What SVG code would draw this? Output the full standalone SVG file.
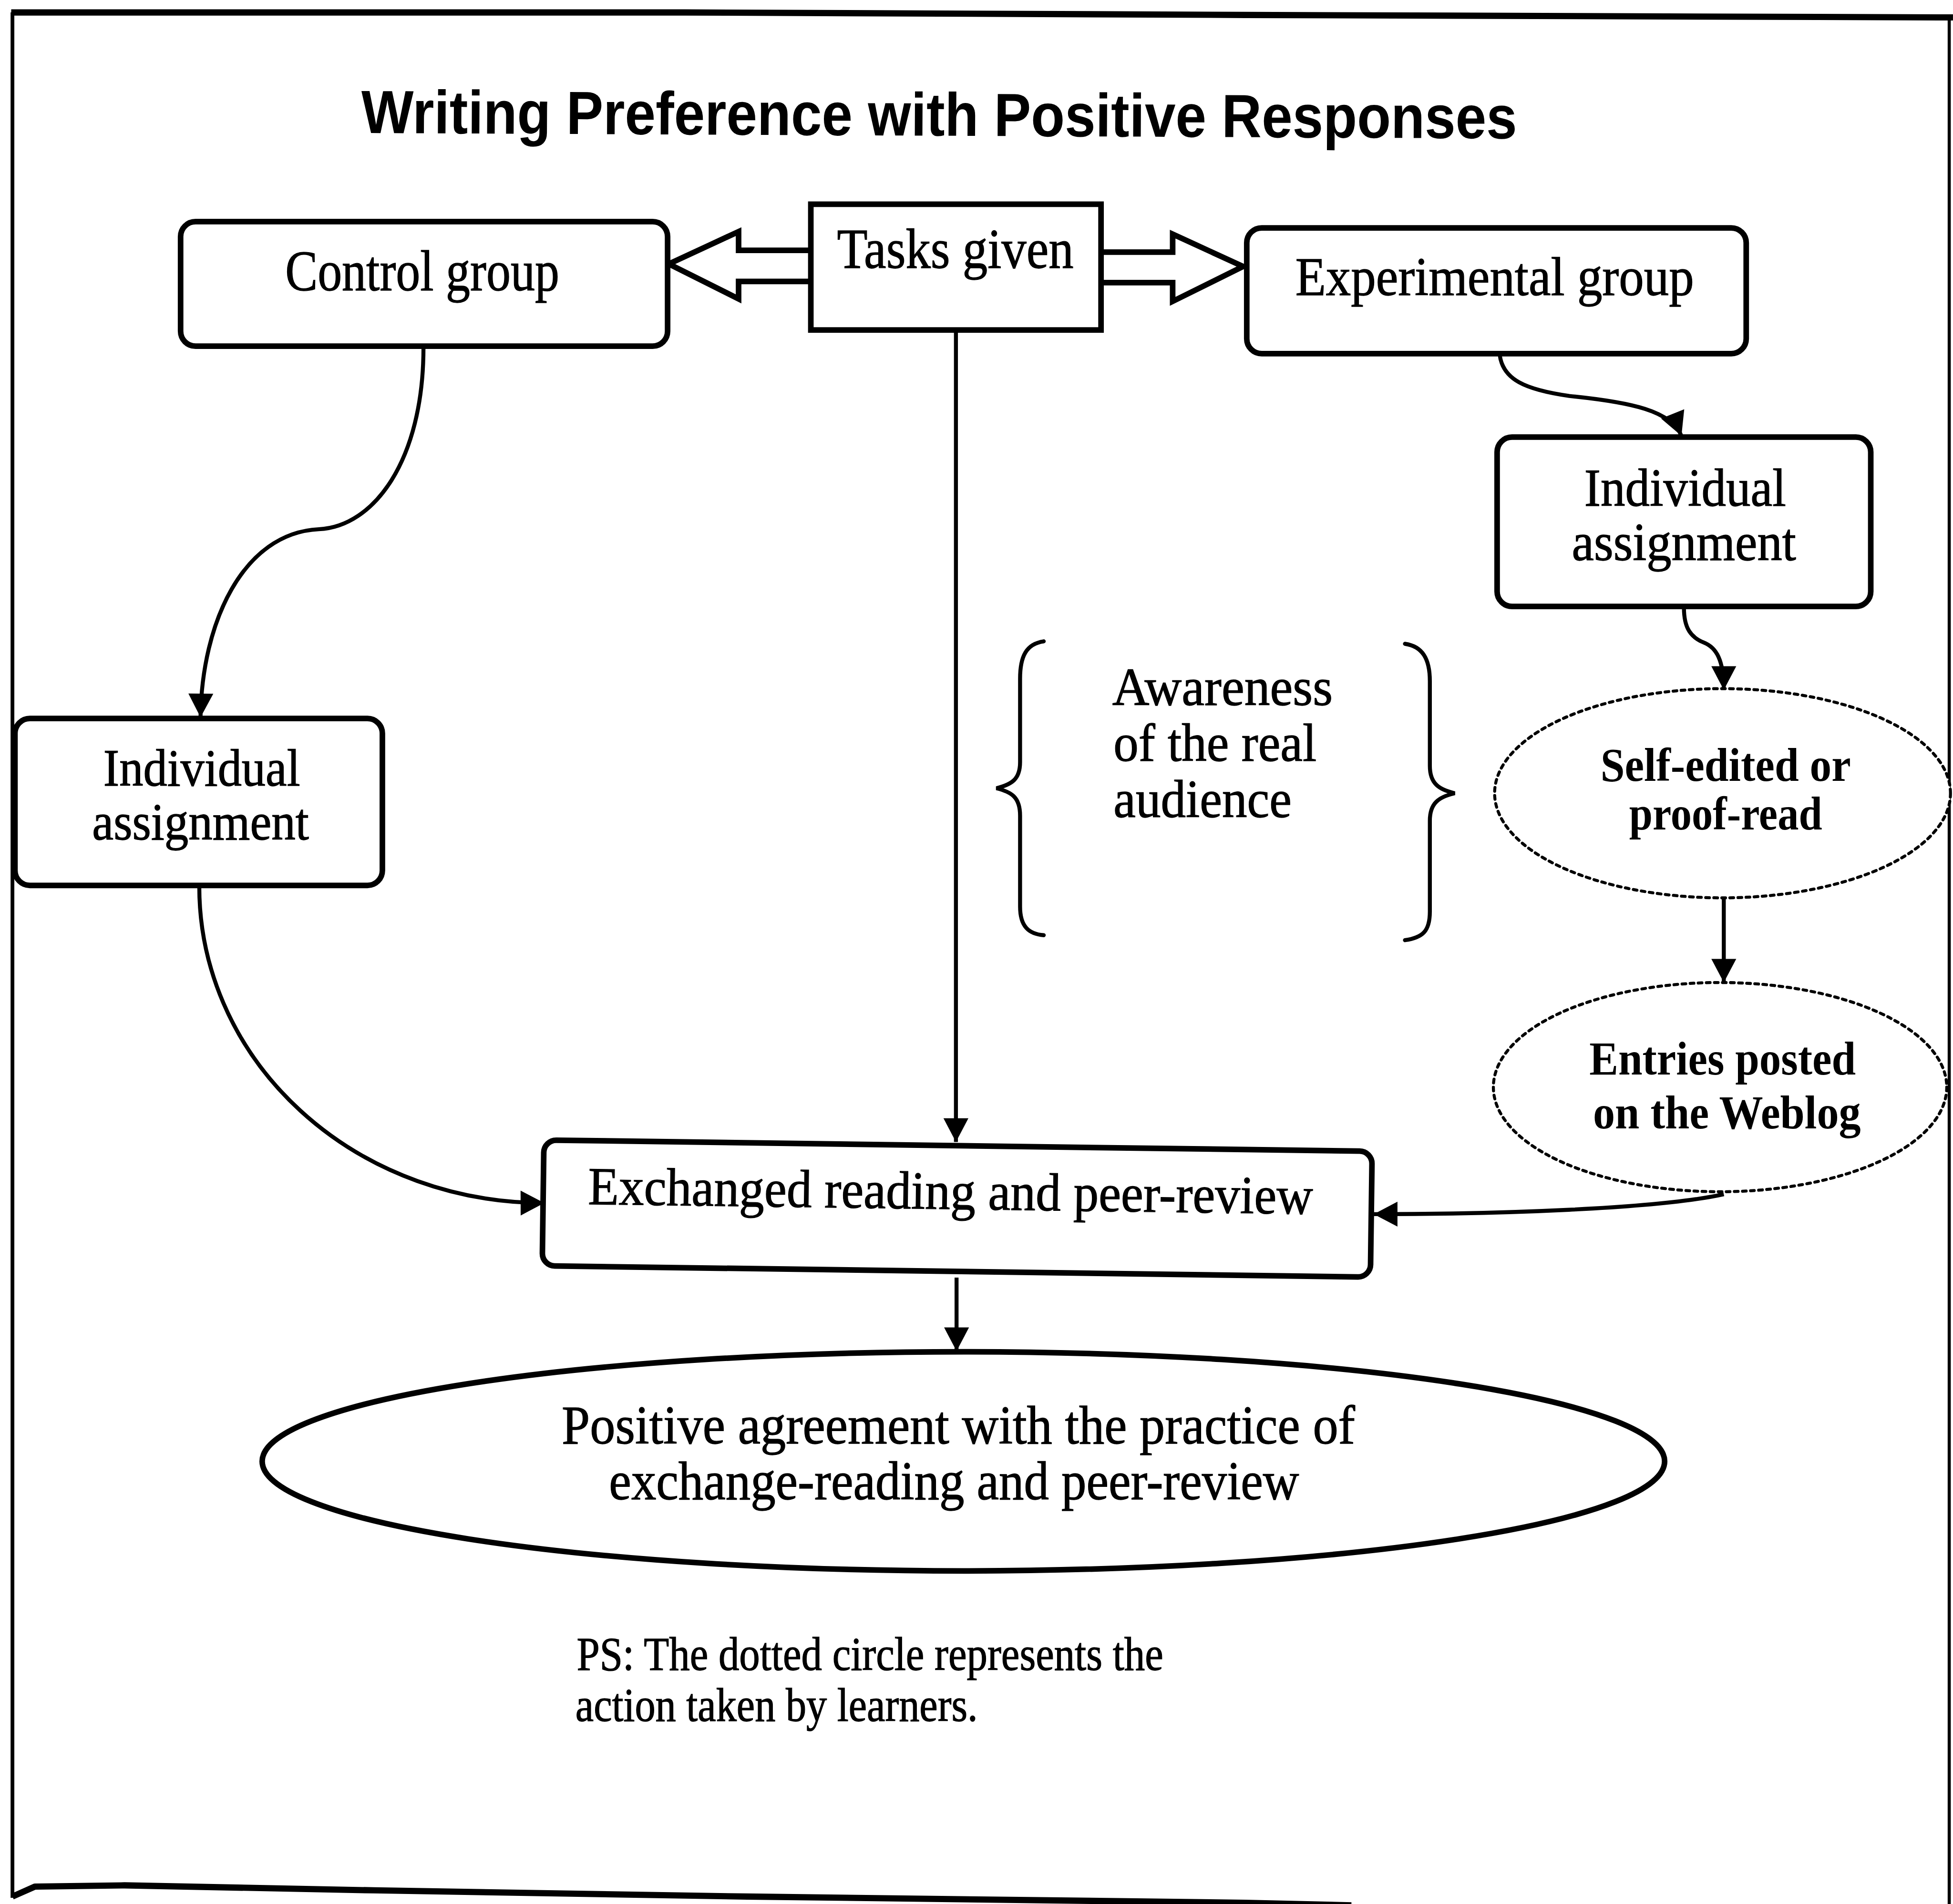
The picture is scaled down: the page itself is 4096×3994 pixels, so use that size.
<svg xmlns="http://www.w3.org/2000/svg" width="4096" height="3994" viewBox="0 0 4096 3994">
  <style>
    .box { fill: #fff; stroke: #000; stroke-width: 4.5; }
    .dot { fill: #fff; stroke: #000; stroke-width: 2.4; stroke-dasharray: 3 3.5; stroke-linecap: round; }
    .edge { fill: none; stroke: #000; stroke-width: 3.2; }
    .brace { fill: none; stroke: #000; stroke-width: 3.2; stroke-linecap: round; }
    .frame { fill: none; stroke: #000; stroke-linejoin: round; }
    .t { font-family: "Liberation Serif", "Times New Roman", serif; fill: #000; stroke: #000; stroke-width: 0.5; }
    .tb { font-family: "Liberation Serif", "Times New Roman", serif; font-weight: bold; fill: #000; }
    .ttl { font-family: "Liberation Sans", Arial, sans-serif; font-weight: bold; fill: #000; }
  </style>
  <defs>
    <marker id="arrow" markerUnits="userSpaceOnUse" markerWidth="22" markerHeight="22" refX="19" refY="10" orient="auto" overflow="visible">
      <path d="M0,0 L19,10 L0,20 Z" fill="#000"/>
    </marker>
  </defs>

  <g transform="scale(2.6122)">
    <!-- page frame -->
    <g id="frame">
      <path class="frame" stroke-width="5" d="M9,10 L550,10 L1000,12 L1568,14"/>
      <path class="frame" stroke-width="3" d="M10,10 L10,1524"/>
      <path class="frame" stroke-width="2.5" d="M1565,14 L1565,1529"/>
      <path class="frame" stroke-width="5" d="M10,1523 L28,1515 L100,1514 L300,1518 L600,1523 L1000,1528 L1085,1530"/>
    </g>

    <!-- title -->
    <text id="title" class="ttl" x="290" y="109" font-size="49" textLength="928" lengthAdjust="spacingAndGlyphs" transform="rotate(0.27 754 109)">Writing Preference with Positive Responses</text>

    <!-- connectors -->
    <g id="connectors">
      <!-- double block arrow out of "Tasks given" -->
      <path class="box" stroke-linejoin="miter" d="M651,201 L593,201 L593,186 L537,212 L593,240 L593,226 L651,226"/>
      <path class="box" stroke-linejoin="miter" d="M884,202.5 L941.5,202.5 L941.5,188 L998,214 L941.5,242 L941.5,227 L884,227"/>
      <!-- tasks down to peer review -->
      <path class="edge" d="M767.5,265 L767.5,917" marker-end="url(#arrow)"/>
      <!-- peer review down to outcome -->
      <path class="edge" d="M768,1026 L768,1085" marker-end="url(#arrow)"/>
      <!-- control group branch -->
      <path class="edge" d="M340,279 C340,370 300,423 256,425 C195,428 162,500 161,576" marker-end="url(#arrow)"/>
      <path class="edge" d="M160,712 A276,254 0 0 0 437,966" marker-end="url(#arrow)"/>
      <!-- experimental group branch -->
      <path class="edge" d="M1204,284 C1206,305 1225,313 1260,318 C1310,323 1342,330 1350,350" marker-end="url(#arrow)"/>
      <path class="edge" d="M1352,488 C1352,505 1358,512 1368,516 C1378,520 1384,530 1384,554" marker-end="url(#arrow)"/>
      <path class="edge" d="M1384,721 L1384,789" marker-end="url(#arrow)"/>
      <path class="edge" d="M1384,959 C1330,971 1200,975 1103,975" marker-end="url(#arrow)"/>
    </g>

    <!-- nodes -->
    <g id="control-group">
      <rect class="box" x="145" y="178" width="391" height="100" rx="12"/>
      <text class="t" x="229" y="233" font-size="46" textLength="220" lengthAdjust="spacingAndGlyphs">Control group</text>
    </g>

    <g id="tasks-given">
      <rect class="box" x="651" y="164" width="233" height="101"/>
      <text class="t" x="672" y="215" font-size="45" textLength="190" lengthAdjust="spacingAndGlyphs">Tasks given</text>
    </g>

    <g id="experimental-group">
      <rect class="box" x="1001" y="183" width="401" height="101" rx="12"/>
      <text class="t" x="1040" y="237" font-size="44" textLength="320" lengthAdjust="spacingAndGlyphs">Experimental group</text>
    </g>

    <g id="individual-control">
      <rect class="box" x="12" y="577" width="295" height="134" rx="12"/>
      <text class="t" x="83" y="631" font-size="42" textLength="158" lengthAdjust="spacingAndGlyphs">Individual</text>
      <text class="t" x="74" y="674" font-size="42" textLength="174" lengthAdjust="spacingAndGlyphs">assignment</text>
    </g>

    <g id="individual-experimental">
      <rect class="box" x="1202" y="351" width="300" height="136" rx="12"/>
      <text class="t" x="1272" y="406" font-size="43" textLength="162" lengthAdjust="spacingAndGlyphs">Individual</text>
      <text class="t" x="1262" y="450" font-size="43" textLength="180" lengthAdjust="spacingAndGlyphs">assignment</text>
    </g>

    <g id="self-edited">
      <ellipse class="dot" cx="1383" cy="637" rx="183" ry="84"/>
      <text class="tb" x="1285" y="627" font-size="38" textLength="201" lengthAdjust="spacingAndGlyphs">Self-edited or</text>
      <text class="tb" x="1308" y="666" font-size="38" textLength="155" lengthAdjust="spacingAndGlyphs">proof-read</text>
    </g>

    <g id="entries-posted">
      <ellipse class="dot" cx="1381" cy="873" rx="182" ry="84"/>
      <text class="tb" x="1276" y="863" font-size="38" textLength="214" lengthAdjust="spacingAndGlyphs">Entries posted</text>
      <text class="tb" x="1279" y="906" font-size="38" textLength="215" lengthAdjust="spacingAndGlyphs">on the Weblog</text>
    </g>

    <g id="awareness">
      <path class="brace" d="M838,515 C824,517 819,527 819,545 L819,612 C819,626 812,630 800,633 C812,636 819,640 819,655 L819,728 C819,744 826,750 838,751"/>
      <path class="brace" d="M1128,517 C1142,519 1148,529 1148,547 L1148,615 C1148,629 1155,634 1168,637 C1155,640 1148,645 1148,659 L1148,732 C1148,748 1142,753 1128,755"/>
      <text class="t" x="893" y="566" font-size="43" textLength="177" lengthAdjust="spacingAndGlyphs">Awareness</text>
      <text class="t" x="894" y="611" font-size="43" textLength="163" lengthAdjust="spacingAndGlyphs">of the real</text>
      <text class="t" x="894" y="656" font-size="43" textLength="143" lengthAdjust="spacingAndGlyphs">audience</text>
    </g>

    <g id="peer-review" transform="rotate(0.78 768.5 970.5)">
      <rect class="box" x="436" y="920" width="665" height="101" rx="10"/>
      <text class="t" x="472" y="971" font-size="43" textLength="582" lengthAdjust="spacingAndGlyphs">Exchanged reading and peer-review</text>
    </g>

    <g id="outcome">
      <ellipse class="box" cx="773.5" cy="1173.5" rx="563" ry="88"/>
      <text class="t" x="451" y="1159" font-size="44" textLength="637" lengthAdjust="spacingAndGlyphs">Positive agreement with the practice of</text>
      <text class="t" x="489" y="1204" font-size="44" textLength="554" lengthAdjust="spacingAndGlyphs">exchange-reading and peer-review</text>
    </g>

    <g id="note">
      <text class="t" x="463" y="1341" font-size="38" textLength="471" lengthAdjust="spacingAndGlyphs">PS: The dotted circle represents the</text>
      <text class="t" x="462" y="1382" font-size="38" textLength="323" lengthAdjust="spacingAndGlyphs">action taken by learners.</text>
    </g>
  </g>
</svg>
